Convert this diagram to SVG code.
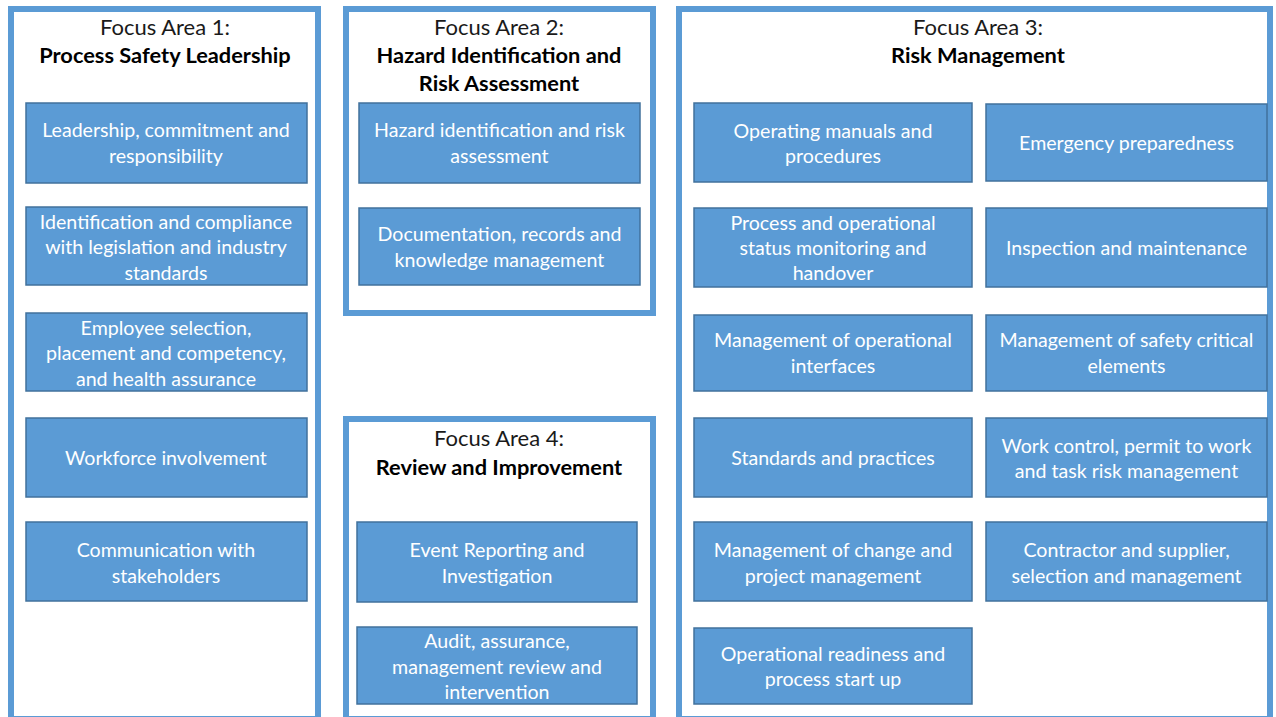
<svg xmlns="http://www.w3.org/2000/svg" width="1276" height="717" viewBox="0 0 1276 717">
<style>
.panel{fill:#ffffff;stroke:#5b9bd5;stroke-width:6}
.box{fill:#5b9bd5;stroke:#41719c;stroke-width:1.5}
.t{font-family:Lato,"Open Sans","Liberation Sans",sans-serif;font-size:19.6px;fill:#ffffff;text-anchor:middle}
.h{font-family:Lato,"Open Sans","Liberation Sans",sans-serif;font-size:22px;fill:#1a1a1a;text-anchor:middle}
.hb{font-family:Lato,"Open Sans","Liberation Sans",sans-serif;font-size:21.8px;font-weight:bold;fill:#000000;text-anchor:middle}
</style>
<rect width="1276" height="717" fill="#ffffff"/>
<g id="panel1">
<rect class="panel" x="11" y="9" width="307" height="710"/>
<text class="h" x="165" y="35">Focus Area 1:</text>
<text class="hb" x="165" y="63">Process Safety Leadership</text>
</g>
<g id="panel2">
<rect class="panel" x="346" y="9" width="307" height="304"/>
<text class="h" x="499" y="35">Focus Area 2:</text>
<text class="hb" x="499" y="63">Hazard Identification and</text>
<text class="hb" x="499" y="91">Risk Assessment</text>
</g>
<g id="panel4">
<rect class="panel" x="346" y="419" width="307" height="300"/>
<text class="h" x="499" y="446">Focus Area 4:</text>
<text class="hb" x="499" y="475">Review and Improvement</text>
</g>
<g id="panel3">
<rect class="panel" x="679" y="9" width="591" height="710"/>
<text class="h" x="978" y="35">Focus Area 3:</text>
<text class="hb" x="978" y="63">Risk Management</text>
</g>
<g id="connectors"></g>
<g id="n1a"><rect class="box" x="26" y="103" width="281" height="80"/><text class="t" x="166" y="137">Leadership, commitment and</text><text class="t" x="166" y="162.5">responsibility</text></g>
<g id="n1b"><rect class="box" x="26" y="207" width="281" height="78"/><text class="t" x="166" y="228.5">Identification and compliance</text><text class="t" x="166" y="254">with legislation and industry</text><text class="t" x="166" y="279.5">standards</text></g>
<g id="n1c"><rect class="box" x="26" y="313" width="281" height="78"/><text class="t" x="166" y="334.5">Employee selection,</text><text class="t" x="166" y="360">placement and competency,</text><text class="t" x="166" y="385.5">and health assurance</text></g>
<g id="n1d"><rect class="box" x="26" y="418" width="281" height="79"/><text class="t" x="166" y="464.5">Workforce involvement</text></g>
<g id="n1e"><rect class="box" x="26" y="522" width="281" height="79"/><text class="t" x="166" y="556.5">Communication with</text><text class="t" x="166" y="582.5">stakeholders</text></g>
<g id="n2a"><rect class="box" x="359" y="103" width="281" height="80"/><text class="t" x="499.5" y="137">Hazard identification and risk</text><text class="t" x="499.5" y="162.5">assessment</text></g>
<g id="n2b"><rect class="box" x="359" y="208" width="281" height="77"/><text class="t" x="499.5" y="240.5">Documentation, records and</text><text class="t" x="499.5" y="266.5">knowledge management</text></g>
<g id="n4a"><rect class="box" x="357" y="522" width="280" height="80"/><text class="t" x="497" y="556.5">Event Reporting and</text><text class="t" x="497" y="582.5">Investigation</text></g>
<g id="n4b"><rect class="box" x="357" y="627" width="280" height="77"/><text class="t" x="497" y="647.5">Audit, assurance,</text><text class="t" x="497" y="673.5">management review and</text><text class="t" x="497" y="698.5">intervention</text></g>
<g id="n3a"><rect class="box" x="694" y="103" width="278" height="79"/><text class="t" x="833" y="137.5">Operating manuals and</text><text class="t" x="833" y="162.5">procedures</text></g>
<g id="n3b"><rect class="box" x="986" y="104" width="281" height="77"/><text class="t" x="1126.5" y="149.5">Emergency preparedness</text></g>
<g id="n3c"><rect class="box" x="694" y="208" width="278" height="79"/><text class="t" x="833" y="229.5">Process and operational</text><text class="t" x="833" y="254.5">status monitoring and</text><text class="t" x="833" y="279.5">handover</text></g>
<g id="n3d"><rect class="box" x="986" y="208" width="281" height="79"/><text class="t" x="1126.5" y="254.5">Inspection and maintenance</text></g>
<g id="n3e"><rect class="box" x="694" y="315" width="278" height="76"/><text class="t" x="833" y="346.5">Management of operational</text><text class="t" x="833" y="372.5">interfaces</text></g>
<g id="n3f"><rect class="box" x="986" y="315" width="281" height="76"/><text class="t" x="1126.5" y="346.5">Management of safety critical</text><text class="t" x="1126.5" y="372.5">elements</text></g>
<g id="n3g"><rect class="box" x="694" y="418" width="278" height="79"/><text class="t" x="833" y="464.5">Standards and practices</text></g>
<g id="n3h"><rect class="box" x="986" y="418" width="281" height="79"/><text class="t" x="1126.5" y="452.5">Work control, permit to work</text><text class="t" x="1126.5" y="477.5">and task risk management</text></g>
<g id="n3i"><rect class="box" x="694" y="522" width="278" height="79"/><text class="t" x="833" y="556.5">Management of change and</text><text class="t" x="833" y="582.5">project management</text></g>
<g id="n3j"><rect class="box" x="986" y="522" width="281" height="79"/><text class="t" x="1126.5" y="556.5">Contractor and supplier,</text><text class="t" x="1126.5" y="582.5">selection and management</text></g>
<g id="n3k"><rect class="box" x="694" y="628" width="278" height="76"/><text class="t" x="833" y="660.5">Operational readiness and</text><text class="t" x="833" y="685.5">process start up</text></g>
</svg>
